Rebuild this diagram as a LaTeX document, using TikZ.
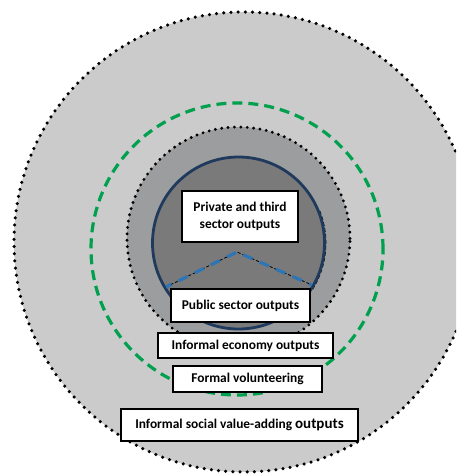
\documentclass[tikz,border=0pt]{standalone}
\usepackage{fontspec}
\setmainfont{Carlito}
\begin{document}
\begin{tikzpicture}[x=1pt,y=-1pt,
  dotring/.style={line width=3.5pt,line cap=round,dash pattern=on 0pt off 7.2pt},
  labelbox/.style={draw=black,line width=1.1pt,fill=white,align=center,
    font=\fontsize{13.4}{16.5}\selectfont\bfseries,inner sep=2pt},
]
\useasboundingbox (0,0) rectangle (456,474);
\clip (0,0) rectangle (456,474);
\definecolor{ringlight}{HTML}{CBCBCB}
\definecolor{ringmid}{HTML}{9B9D9F}
\definecolor{coredark}{HTML}{7A7A7B}
\definecolor{navyline}{HTML}{1F3A5C}
\definecolor{greendash}{HTML}{00A04E}
\definecolor{bluedash}{HTML}{2E75B6}

% outer ring: informal social value-adding outputs
\fill[ringlight] (244,242) circle[radius=230pt];
\draw[dotring] (244,242) circle[radius=230pt];

% formal volunteering boundary
\draw[greendash,line width=3.2pt,dash pattern=on 10pt off 6pt] (237,249) circle[radius=146pt];

% informal economy ring
\fill[ringmid] (238.5,238.5) circle[radius=111.5pt];
\draw[dotring,line width=3.2pt,dash pattern=on 0pt off 6.4pt] (238.5,238.5) circle[radius=111.5pt];

% core: private, third and public sector
\fill[coredark] (238.5,243) circle[radius=86pt];
\draw[black,line width=0.7pt,dash pattern=on 4pt off 2pt] (238.5,243) ++(-32:87.5pt) arc[start angle=-32,end angle=22,radius=87.5pt];
\draw[navyline,line width=2.8pt] (238.5,243) circle[radius=86pt];

% split between private/third and public sector
\coordinate (vl) at (166,287);
\coordinate (va) at (237,252);
\coordinate (vr) at (312,285);
\draw[black,line width=0.8pt,dash pattern=on 3pt off 2pt] (vl) -- (va) -- (vr);
\draw[bluedash,line width=3.2pt,dash pattern=on 10pt off 8pt,dash phase=4pt] (vl) -- (va) -- (vr);

% labels
\node[labelbox,minimum width=116pt,minimum height=51pt] (priv) at (240,216.5) {Private and third\\sector outputs};
\node[labelbox,minimum width=139pt,minimum height=33pt] (pub) at (240.5,305.5) {Public sector outputs};
\node[labelbox,minimum width=175pt,minimum height=25pt] (infecon) at (245.5,345.5) {Informal economy outputs};
\node[labelbox,minimum width=149pt,minimum height=26pt] (formvol) at (247.5,379) {Formal volunteering};
\node[labelbox,minimum width=237pt,minimum height=32pt] (infsoc) at (239.5,425) {Informal social value-adding {\fontsize{15}{16.5}\selectfont outputs}};
\end{tikzpicture}
\end{document}
